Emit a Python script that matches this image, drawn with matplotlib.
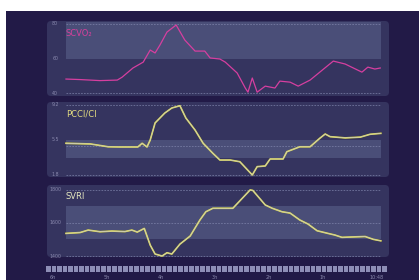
import matplotlib
matplotlib.use("Agg")
import matplotlib.pyplot as plt
from matplotlib.patches import FancyBboxPatch, Rectangle
import numpy as np

# time axis in hours (0 = first tick)
hour_ticks = [0, 1, 2, 3, 4, 5, 6]
hour_labels = ["6h", "5h", "4h", "3h", "2h", "1h", "10:48"]

scvo2_t = [0.24, 0.50, 0.87, 1.19, 1.28, 1.48, 1.67, 1.80, 1.89, 1.98, 2.11, 2.28,
           2.44, 2.63, 2.81, 2.91, 3.09, 3.19, 3.41, 3.56, 3.61, 3.69, 3.78, 3.93,
           4.11, 4.20, 4.39, 4.54, 4.76, 4.94, 5.19, 5.41, 5.72, 5.83, 5.96, 6.06]
scvo2_v = [48.1, 47.8, 47.2, 47.5, 49.2, 54.5, 57.9, 64.9, 63.2, 67.8, 75.3, 79.4,
           70.7, 64.3, 64.3, 60.3, 59.7, 57.9, 51.6, 42.9, 40.5, 48.7, 40.5, 44.0,
           42.9, 46.9, 46.3, 44.0, 47.5, 52.1, 58.5, 56.8, 52.1, 55.0, 53.9, 54.5]

pcci_t = [0.24, 0.69, 0.87, 1.02, 1.24, 1.57, 1.65, 1.74, 1.80, 1.89, 2.07, 2.20,
          2.35, 2.46, 2.63, 2.78, 2.96, 3.09, 3.28, 3.46, 3.69, 3.78, 3.93, 4.02,
          4.26, 4.33, 4.57, 4.76, 4.94, 5.04, 5.13, 5.41, 5.69, 5.87, 6.07]
pcci_v = [5.15, 5.08, 4.92, 4.78, 4.76, 4.76, 5.15, 4.76, 5.5, 7.3, 8.35, 8.88,
          9.12, 7.82, 6.55, 5.15, 4.09, 3.38, 3.38, 3.2, 1.8, 2.68, 2.75, 3.49,
          3.49, 4.26, 4.78, 4.78, 5.68, 6.13, 5.85, 5.72, 5.8, 6.1, 6.2]

svri_t = [0.24, 0.50, 0.65, 0.87, 1.09, 1.33, 1.46, 1.56, 1.69, 1.80, 1.89, 2.02,
          2.11, 2.20, 2.35, 2.54, 2.72, 2.83, 2.96, 3.04, 3.33, 3.65, 3.70, 3.93,
          4.06, 4.24, 4.39, 4.57, 4.72, 4.89, 5.09, 5.22, 5.35, 5.59, 5.78, 5.93, 6.07]
svri_v = [1537, 1542, 1557, 1547, 1551, 1548, 1557, 1545, 1567, 1466, 1412, 1400,
          1420, 1412, 1472, 1521, 1618, 1668, 1689, 1689, 1689, 1800, 1797, 1709,
          1689, 1668, 1660, 1618, 1594, 1553, 1537, 1527, 1513, 1516, 1518, 1501, 1492]

W, H = 419, 280
BG = "#221a47"
PANEL = "#35345f"
BAND = "#4a4e78"
DASH = "#8186ad"
TICKC = "#8a89ae"
T0, T1 = 0.24, 6.07
XLIM = (-0.13, 6.24)

fig = plt.figure(figsize=(W / 100, H / 100), dpi=100, facecolor="white")

def px_axes(x, y, w, h):
    return fig.add_axes([x / W, 1 - (y + h) / H, w / W, h / H])

# background in pixel coords
bg = fig.add_axes([0, 0, 1, 1])
bg.set_xlim(0, W)
bg.set_ylim(H, 0)
bg.axis("off")
bg.add_patch(Rectangle((6, 11), W - 6, H - 11, color=BG, lw=0))
for y0, y1 in [(20, 97), (101, 178), (184, 258)]:
    bg.add_patch(FancyBboxPatch((47, y0 + 1), 342, y1 - y0 - 2,
                                boxstyle="round,pad=0,rounding_size=4",
                                fc=PANEL, ec="none"))

panels = [
    dict(rect=(46, 20, 344, 77), ylim=(37.7, 82.3), band=(60, 81),
         ticks=[80, 60, 40], labels=["80", "60", "40"], dashed=[80, 40],
         title="SCVO₂", tcol="#d6409c", t=scvo2_t, v=scvo2_v, kind="pink"),
    dict(rect=(46, 101, 344, 77), ylim=(1.48, 9.62), band=(3.6, 5.5),
         ticks=[9.2, 5.5, 1.8], labels=["9.2", "5.5", "1.8"], dashed=[9.2, 4.9, 1.8],
         title="PCCI/CI", tcol="#e3dc80", t=pcci_t, v=pcci_v, kind="yellow"),
    dict(rect=(46, 184, 344, 74), ylim=(1388, 1836), band=(1500, 1700),
         ticks=[1800, 1600, 1400], labels=["1800", "1600", "1400"], dashed=[1800, 1600, 1400],
         title="SVRI", tcol="#e5e8c0", t=svri_t, v=svri_v, kind="yellow"),
]

for p in panels:
    ax = px_axes(*p["rect"])
    ax.set_facecolor("none")
    ax.axis("off")
    ax.set_xlim(*XLIM)
    ax.set_ylim(*p["ylim"])
    ax.fill_between([T0, T1], p["band"][0], p["band"][1], color=BAND, lw=0)
    ax.hlines(p["dashed"], T0, T1, colors=DASH, lw=0.6, linestyles=(0, (2, 1.5)), alpha=0.8)
    for val, lab in zip(p["ticks"], p["labels"]):
        ax.text(0.04, val, lab, fontsize=3.4, color=TICKC, ha="center", va="center")
    if p["kind"] == "pink":
        ax.plot(p["t"], p["v"], color="#d63fa0", lw=0.9, solid_joinstyle="round")
    else:
        ax.plot(p["t"], p["v"], color="#e3df3c", lw=1.2, solid_joinstyle="round")
        ax.plot(p["t"], p["v"], color="#c9c9bc", lw=0.6, solid_joinstyle="round")
    yt = p["ylim"][1] - (p["ylim"][1] - p["ylim"][0]) * 0.17
    ax.text(T0, yt, p["title"], fontsize=6, color=p["tcol"], ha="left", va="center")

# time strip
sx = px_axes(46, 266, 344, 6)
sx.set_facecolor("none")
sx.set_xlim(*XLIM)
sx.set_ylim(0, 1)
edges = np.linspace(XLIM[0], 6.2, 63)
sx.bar(edges[:-1], 1, width=(edges[1] - edges[0]) * 0.82, align="edge",
       color="#8e8eb6", lw=0)
for s in sx.spines.values():
    s.set_visible(False)
sx.set_yticks([])
sx.set_xticks(hour_ticks)
sx.set_xticklabels(hour_labels)
sx.tick_params(axis="x", length=0, pad=2, labelsize=3.5, labelcolor=TICKC)

fig.savefig("out.png", dpi=100, facecolor="white")
